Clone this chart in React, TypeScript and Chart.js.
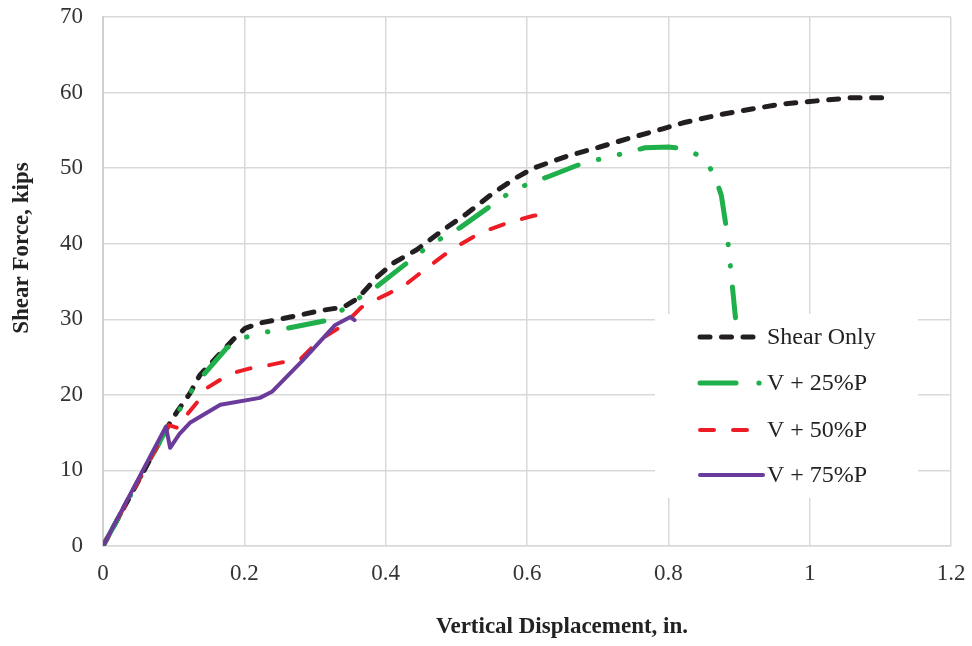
import React, { useEffect, useRef } from "react";
import { Chart, registerables } from "chart.js";

Chart.register(...registerables);

// Load–displacement curves (displacement in inches, shear in kips)
const shearOnlyX = [0, 0.093, 0.105, 0.123, 0.137, 0.161, 0.184, 0.201, 0.222, 0.265, 0.311, 0.34, 0.361, 0.388, 0.41, 0.444, 0.481, 0.515, 0.552, 0.586, 0.609, 0.657, 0.703, 0.75, 0.792, 0.821, 0.869, 0.916, 0.962, 1.01, 1.057, 1.11];
const shearOnlyY = [0, 16.0, 17.8, 20.2, 22.6, 25.0, 27.3, 28.8, 29.5, 30.3, 31.2, 31.6, 32.8, 35.6, 37.4, 39.2, 41.8, 44.0, 46.7, 48.8, 50.0, 51.6, 52.8, 54.1, 55.2, 56.0, 57.0, 57.8, 58.5, 58.9, 59.3, 59.3];

const p25X = [0, 0.093, 0.106, 0.123, 0.14, 0.175, 0.201, 0.23, 0.26, 0.314, 0.338, 0.362, 0.387, 0.432, 0.454, 0.48, 0.505, 0.55, 0.573, 0.601, 0.628, 0.68, 0.708, 0.739, 0.767, 0.8, 0.821, 0.848, 0.865, 0.875, 0.883, 0.889, 0.895];
const p25Y = [0, 16.0, 17.7, 20.2, 22.4, 26.2, 27.6, 28.3, 28.8, 29.8, 31.2, 32.8, 34.3, 37.6, 39.2, 40.8, 42.1, 45.1, 46.6, 47.9, 48.8, 50.7, 51.3, 52.0, 52.7, 52.8, 52.6, 51.5, 49.2, 46.4, 41.5, 35.9, 30.2];

const p50X = [0, 0.093, 0.106, 0.119, 0.133, 0.147, 0.166, 0.184, 0.208, 0.229, 0.253, 0.279, 0.307, 0.34, 0.366, 0.386, 0.406, 0.427, 0.446, 0.463, 0.481, 0.5, 0.522, 0.538, 0.565, 0.586, 0.609, 0.622, 0.628];
const p50Y = [0, 16.0, 15.6, 17.4, 19.0, 20.9, 22.0, 22.9, 23.5, 23.8, 24.3, 24.7, 27.3, 29.2, 31.6, 32.6, 33.5, 34.5, 35.9, 37.1, 38.4, 39.6, 40.8, 41.6, 42.5, 43.1, 43.7, 43.8, 43.4];

const p75X = [0, 0.089, 0.095, 0.108, 0.123, 0.166, 0.222, 0.239, 0.283, 0.328, 0.35, 0.356];
const p75Y = [0, 15.8, 13.0, 14.8, 16.3, 18.7, 19.6, 20.4, 24.6, 29.2, 30.3, 29.9];

const seriesNames = ["Shear Only", "V + 25%P", "V + 50%P", "V + 75%P"];
const xTicks = [0, 0.2, 0.4, 0.6, 0.8, 1, 1.2];
const yTicks = [0, 10, 20, 30, 40, 50, 60, 70];

const xTitle = "Vertical Displacement, in.";
const yTitle = "Shear Force, kips";

const toPoints = (xs: number[], ys: number[]) => xs.map((x, i) => ({ x, y: ys[i] }));

const styles = [
  { color: "#231f20", width: 5, dash: [10, 11.5] },
  { color: "#1fb04b", width: 5, dash: [36, 21, 0.5, 21, 0.5, 21] },
  { color: "#ee1d25", width: 4, dash: [14, 19] },
  { color: "#6b3b9c", width: 4, dash: [] as number[] },
];

const SERIF = "'Liberation Serif', 'Times New Roman', serif";

// White legend panel inside the plot, plus the two axis titles
const overlayPlugin = {
  id: "overlay",
  beforeDatasetsDraw(chart: any) {
    const ctx = chart.ctx as CanvasRenderingContext2D;
    ctx.save();
    ctx.fillStyle = "#ffffff";
    ctx.fillRect(655, 314, 263, 184);
    ctx.restore();
  },
  afterDraw(chart: any) {
    const ctx = chart.ctx as CanvasRenderingContext2D;
    ctx.save();
    // legend entries
    const rows = [337, 383, 430, 475];
    const ends = [757, 742, 750, 763];
    seriesNames.forEach((name, i) => {
      const s = styles[i];
      ctx.beginPath();
      ctx.strokeStyle = s.color;
      ctx.lineWidth = s.width;
      ctx.lineCap = "round";
      ctx.setLineDash(s.dash);
      ctx.moveTo(700, rows[i]);
      ctx.lineTo(ends[i], rows[i]);
      ctx.stroke();
      if (i === 1) {
        ctx.setLineDash([]);
        ctx.beginPath();
        ctx.fillStyle = s.color;
        ctx.arc(759, rows[i], 2.6, 0, Math.PI * 2);
        ctx.fill();
      }
      ctx.setLineDash([]);
      ctx.fillStyle = "#222222";
      ctx.font = `24px ${SERIF}`;
      ctx.textAlign = "left";
      ctx.textBaseline = "middle";
      ctx.fillText(name, 767, rows[i] + 1);
    });

    // axis titles
    ctx.fillStyle = "#222222";
    ctx.font = `bold 23px ${SERIF}`;
    ctx.textAlign = "center";
    ctx.textBaseline = "middle";
    ctx.fillText(xTitle, 562, 627);
    ctx.translate(22, 248);
    ctx.rotate(-Math.PI / 2);
    ctx.fillText(yTitle, 0, 0);
    ctx.restore();
  },
};

export default function App() {
  const canvasRef = useRef<HTMLCanvasElement | null>(null);

  useEffect(() => {
    document.body.style.margin = "0";
    const canvas = canvasRef.current;
    if (!canvas) return;

    const data = [
      toPoints(shearOnlyX, shearOnlyY),
      toPoints(p25X, p25Y),
      toPoints(p50X, p50Y),
      toPoints(p75X, p75Y),
    ];

    const chart = new Chart(canvas, {
      type: "scatter",
      data: {
        datasets: data.map((pts, i) => ({
          label: seriesNames[i],
          data: pts,
          showLine: true,
          borderColor: styles[i].color,
          backgroundColor: styles[i].color,
          borderWidth: styles[i].width,
          borderDash: styles[i].dash,
          borderCapStyle: "round" as const,
          borderJoinStyle: "round" as const,
          pointRadius: 0,
          tension: 0,
          order: 4 - i,
        })),
      },
      options: {
        animation: false,
        responsive: false,
        maintainAspectRatio: false,
        layout: { padding: { left: 0, top: 17, right: 21, bottom: 0 } },
        plugins: {
          legend: { display: false },
          tooltip: { enabled: false },
        },
        scales: {
          x: {
            type: "linear",
            min: 0,
            max: 1.2,
            afterBuildTicks: (scale: any) => {
              scale.ticks = xTicks.map((v) => ({ value: v }));
            },
            afterFit: (scale: any) => {
              scale.height = 100;
              scale.paddingLeft = 0;
              scale.paddingRight = 0;
            },
            grid: { color: "#d9d9d9", lineWidth: 1.5, drawTicks: false },
            border: { display: true, color: "#d9d9d9", width: 1.5 },
            ticks: {
              padding: 14,
              color: "#333333",
              font: { family: SERIF, size: 23 },
              maxRotation: 0,
              callback: (v: any) => String(Math.round(Number(v) * 10) / 10),
            },
          },
          y: {
            type: "linear",
            min: 0,
            max: 70,
            afterBuildTicks: (scale: any) => {
              scale.ticks = yTicks.map((v) => ({ value: v }));
            },
            afterFit: (scale: any) => {
              scale.width = 103;
              scale.paddingTop = 0;
              scale.paddingBottom = 0;
            },
            grid: { color: "#d9d9d9", lineWidth: 1.5, drawTicks: false },
            border: { display: true, color: "#d0d0d0", width: 2 },
            ticks: {
              padding: 20,
              color: "#333333",
              font: { family: SERIF, size: 23 },
            },
          },
        },
      },
      plugins: [overlayPlugin],
    });

    return () => chart.destroy();
  }, []);

  return (
    <div style={{ position: "fixed", left: 0, top: 0, width: 972, height: 646, background: "#fff" }}>
      <canvas ref={canvasRef} width={972} height={646} style={{ width: 972, height: 646 }} />
    </div>
  );
}
